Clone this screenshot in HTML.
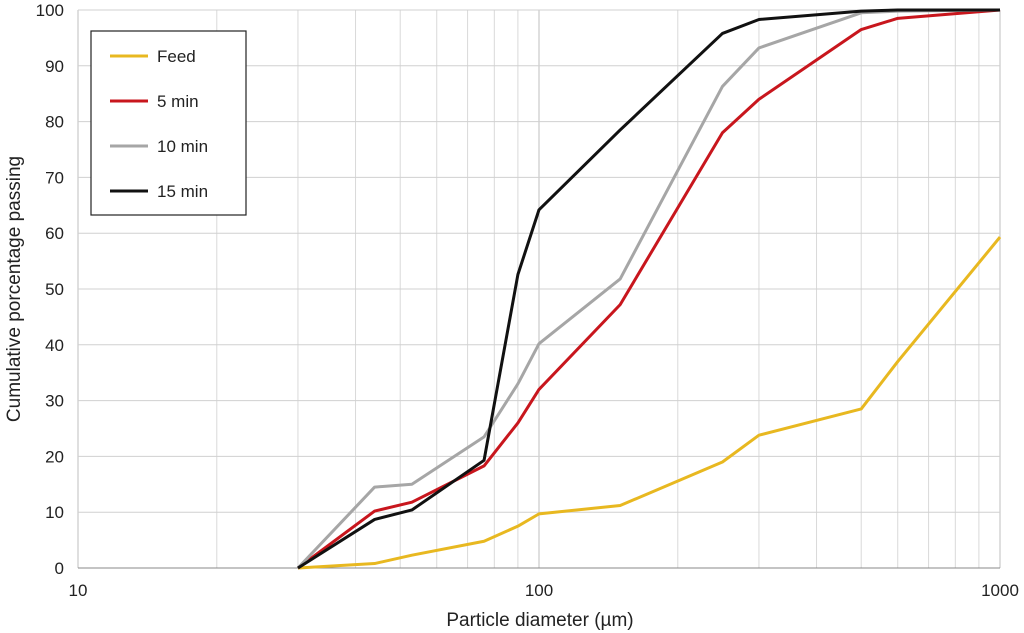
<!DOCTYPE html>
<html><head><meta charset="utf-8"><style>
html,body{margin:0;padding:0;background:#fff;}
svg{display:block;font-family:"Liberation Sans",sans-serif;}
</style></head><body>
<svg id="chart" width="1024" height="633" xmlns="http://www.w3.org/2000/svg">
<g id="grid"></g>
<g id="axes"></g>
<g id="series"></g>
<text x="540" y="626" font-size="19" text-anchor="middle" fill="#222">Particle diameter (µm)</text>
<text transform="translate(20,289) rotate(-90)" font-size="19" text-anchor="middle" fill="#222">Cumulative porcentage passing</text>
<g>
<rect x="91" y="31" width="155" height="184" fill="#fff" stroke="#222" stroke-width="1.2"/>
<g id="legend-entries"></g>
</g>
</svg>
<script>
const xDiam = [30,44,53,76,90,100,150,250,300,500,600,1000];
const seriesNames = ["Feed","5 min","10 min","15 min"];
const seriesColors = ["#e8b820","#c8161d","#a6a6a6","#111111"];
const feedVals =  [0,0.8,2.3,4.8,7.5,9.7,11.2,19,23.8,28.5,37,59.3];
const min5Vals =  [0,10.2,11.8,18.3,26,32,47.2,78,84,96.5,98.5,100];
const min10Vals = [0,14.5,15,23.5,33,40.2,51.8,86.3,93.2,99.5,99.8,100];
const min15Vals = [0,8.7,10.4,19.3,52.6,64.2,78.5,95.8,98.3,99.8,100,100];
const yTicks = [0,10,20,30,40,50,60,70,80,90,100];
const xTicks = [10,100,1000];

const L=78,R=1000,T=10,B=568;
const xs=v=>L+(Math.log10(v)-1)/2*(R-L);
const ys=v=>B-v/100*(B-T);
const NS="http://www.w3.org/2000/svg";
function mk(tag,attrs,parent){const e=document.createElementNS(NS,tag);for(const k in attrs)e.setAttribute(k,attrs[k]);parent.appendChild(e);return e;}
const grid=document.getElementById('grid'),axes=document.getElementById('axes'),ser=document.getElementById('series');
for(let d=10;d<1000;d*=10){for(let m=2;m<=9;m++){const l=mk('line',{x1:xs(d*m),x2:xs(d*m),y1:T,y2:B,stroke:'#d9d9d9','stroke-width':1},grid);

}}
xTicks.forEach(t=>{const l=mk('line',{x1:xs(t),x2:xs(t),y1:T,y2:B,stroke:'#bfbfbf','stroke-width':1},grid);


const tx=mk('text',{x:xs(t),y:596,'font-size':17,'text-anchor':'middle',fill:'#222'},axes);tx.textContent=t;

});
yTicks.forEach(t=>{const l=mk('line',{x1:L,x2:R,y1:ys(t),y2:ys(t),stroke:'#d0d0d0','stroke-width':1},grid);


const tx=mk('text',{x:64,y:ys(t)+6,'font-size':17,'text-anchor':'end',fill:'#222'},axes);tx.textContent=t;

});
const ax=mk('line',{x1:L,x2:R,y1:B,y2:B,stroke:'#888','stroke-width':1},axes);


const allVals=[feedVals,min5Vals,min10Vals,min15Vals];
allVals.forEach((vals,i)=>{const p=mk('polyline',{points:vals.map((v,j)=>xs(xDiam[j])+','+ys(v)).join(' '),fill:'none',stroke:seriesColors[i],'stroke-width':3,'stroke-linejoin':'round'},ser);

});
const le=document.getElementById('legend-entries');
seriesNames.forEach((n,i)=>{const y=56+i*45;
const l=mk('line',{x1:110,x2:148,y1:y,y2:y,stroke:seriesColors[i],'stroke-width':3},le);


const t=mk('text',{x:157,y:y+6,'font-size':17,fill:'#222'},le);t.textContent=n;

});
</script>
</body></html>
